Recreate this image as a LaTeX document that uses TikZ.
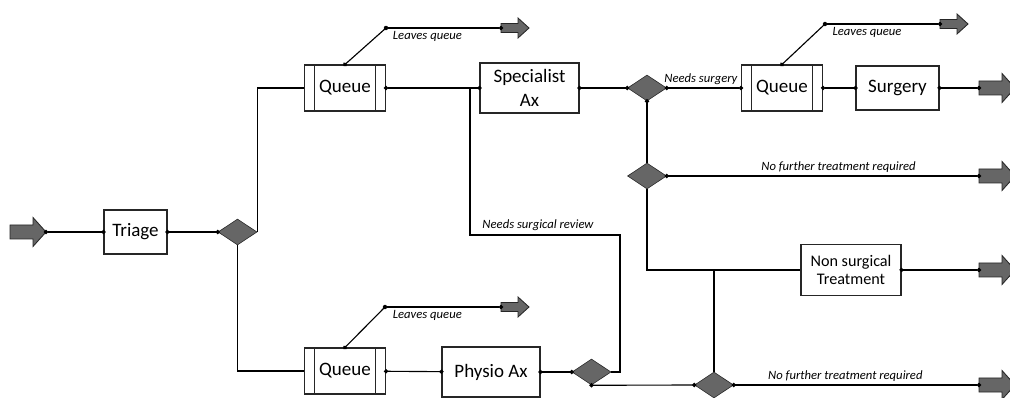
\documentclass[tikz,border=0pt]{standalone}
\usepackage{fontspec}
\setmainfont{Carlito}
\usepackage{tikz}
\usetikzlibrary{positioning,arrows.meta,shapes.geometric}

\tikzset{
  box/.style={draw=black!85,thick,fill=white,inner sep=2pt,align=center,font=\fontsize{13.5}{17}\selectfont},
  qbox/.style={box,minimum width=2.025cm,minimum height=1.15cm,
    path picture={\draw[thick] ([xshift=0.25cm]path picture bounding box.north west) -- ([xshift=0.25cm]path picture bounding box.south west)
      ([xshift=-0.25cm]path picture bounding box.north east) -- ([xshift=-0.25cm]path picture bounding box.south east);}},
  dec/.style={diamond,draw=black!85,fill=black!60,minimum width=0.975cm,minimum height=0.65cm,inner sep=0pt},
  lbl/.style={font=\fontsize{9}{10}\selectfont\itshape,inner sep=2pt},
  flow/.style={thick,{Circle[length=3pt]}-{Circle[length=3pt]},shorten <=-1.5pt,shorten >=-1.5pt},
  flowa/.style={thick,{Circle[length=3pt]}-,shorten <=-1.5pt},
  bigarrow/.pic={\draw[black!85,fill=black!60,semithick] (0,-7) -- (23,-7) -- (23,-14.5) -- (36,0) -- (23,14.5) -- (23,7) -- (0,7) -- cycle;},
  smallarrow/.pic={\draw[black!85,fill=black!60,semithick] (0,-4.5) -- (17,-4.5) -- (17,-10) -- (28,0) -- (17,10) -- (17,4.5) -- (0,4.5) -- cycle;}
}

\begin{document}
\begin{tikzpicture}[x=0.025cm,y=-0.025cm]
\useasboundingbox (0,0) rectangle (1010,398);

% boxes
\node[box,minimum width=1.575cm,minimum height=1.1cm] (tri) at (135.5,232) {Triage};
\node[qbox] (q1) at (345,88) {Queue};
\node[qbox] (q2) at (782,88) {Queue};
\node[qbox] (q3) at (345,371) {Queue};
\node[box,minimum width=2.475cm,minimum height=1.25cm] (spec) at (529.5,88) {Specialist\\Ax};
\node[box,minimum width=2.075cm,minimum height=1.1cm] (surg) at (897.5,88) {Surgery};
\node[box,minimum width=2.5cm,minimum height=1.275cm,font=\fontsize{11.5}{13}\selectfont] (nst) at (851,270) {Non surgical\\Treatment};
\node[box,minimum width=2.45cm,minimum height=1.25cm] (phy) at (491,372) {Physio Ax};

% decisions
\node[dec] (d1) at (237.5,232) {};
\node[dec] (d2) at (647,88) {};
\node[dec] (d3) at (647,176) {};
\node[dec] (d4) at (714,385) {};
\node[dec] (d5) at (591.5,372) {};

% in and out
\coordinate (in) at (46,232);
\coordinate (out1) at (979,88);
\coordinate (out2) at (979,176);
\coordinate (out3) at (979,270);
\coordinate (out4) at (979,385);
\pic at (10,232) {bigarrow};
\foreach \o in {out1,out2,out3,out4}
  \pic at (\o) {bigarrow};

% leaving the queues
\coordinate (lq1) at (386,28);
\coordinate (lq1o) at (501,28);
\coordinate (lq2) at (825,24);
\coordinate (lq2o) at (940,24);
\coordinate (lq3) at (385,307);
\coordinate (lq3o) at (501,307);
\foreach \o in {lq1o,lq2o,lq3o}
  \pic at (\o) {smallarrow};

\coordinate (j1) at (470,88);
\coordinate (rv) at (620,235);
\coordinate (j2) at (714,270);

\path[flow] (in) edge (tri);
\path[flow] (tri) edge (d1);
\draw[thick] (d1.east) |- (q1.west);
\draw[thick] (d1.south) |- (q3.west);
\path[flow] (q1) edge (spec);
\path[flow] (spec) edge (d2);
\path[flow] (d2) edge node[lbl,above,pos=0.46] {Needs surgery} (q2);
\path[flow] (q2) edge (surg);
\path[flow] (surg) edge (out1);

\path[flow] (q1.north) edge (lq1);
\path[flow] (lq1) edge node[lbl,below,pos=0.36] {Leaves queue} (lq1o);
\path[flow] (q2.north) edge (lq2);
\path[flow] (lq2) edge node[lbl,below,pos=0.365] {Leaves queue} (lq2o);
\path[flow] (q3.north) edge (lq3);
\path[flow] (lq3) edge node[lbl,below,pos=0.365] {Leaves queue} (lq3o);

\draw[thick] (j1) |- (rv) |- (d5.east);
\node[lbl] (nsr) at (538,225) {Needs surgical review};

\path[flowa] (d2.south) edge (d3.north);
\path[flow] (d3.east) edge node[lbl,above,pos=0.55] {No further treatment required} (out2);
\draw[thick] (d3.south) |- (nst.west);
\draw[thick] (j2) -- (d4.north);
\path[flow] (nst) edge (out3);

\path[flow] (q3) edge (phy);
\path[flow] (phy) edge (d5);
\path[flow] (d5.south) edge (d4.west);
\path[flow] (d4.east) edge node[lbl,above,pos=0.455] {No further treatment required} (out4);
\end{tikzpicture}
\end{document}
